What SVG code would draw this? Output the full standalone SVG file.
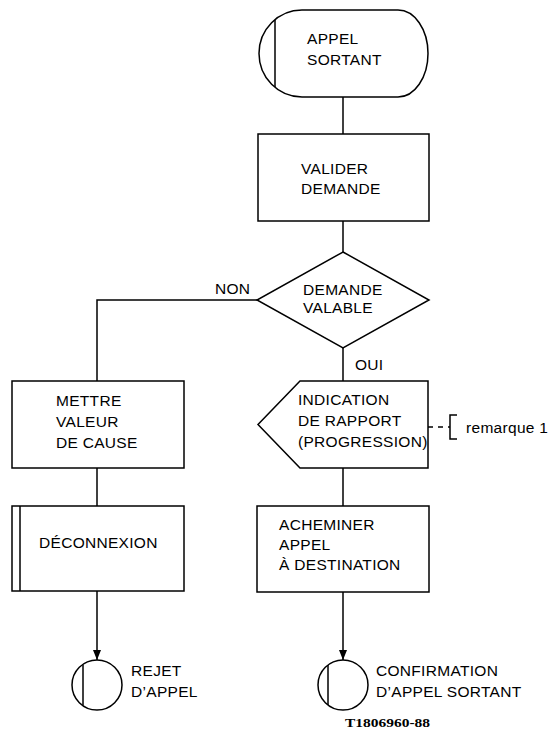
<svg xmlns="http://www.w3.org/2000/svg" width="554" height="745" viewBox="0 0 554 745">
<style>
.s{fill:#fff;stroke:#000;stroke-width:1.5}
.l{fill:none;stroke:#000;stroke-width:1.5}
.t{font-family:"Liberation Sans",Arial,sans-serif;font-size:15.5px;letter-spacing:0.3px;fill:#000}
.c{font-family:"Liberation Serif","Times New Roman",serif;font-size:12px;font-weight:bold;fill:#000}
</style>
<defs>
<marker id="ah" markerUnits="userSpaceOnUse" markerWidth="10" markerHeight="8" refX="10" refY="4" orient="auto">
<path d="M0,0 L10,4 L0,8 Z" fill="#000"/>
</marker>
</defs>
<rect width="554" height="745" fill="#fff"/>
<g id="connectors">
<path class="l" d="M343,97 V134"/>
<path class="l" d="M343,221 V252"/>
<path class="l" d="M257,300 H97 V381"/>
<path class="l" d="M343,348 V381"/>
<path class="l" d="M97,468 V506"/>
<path class="l" d="M343,468 V506"/>
<path class="l" d="M97,591 V660" marker-end="url(#ah)"/>
<path class="l" d="M343,592 V660" marker-end="url(#ah)"/>
<path class="l" d="M428,427 H450" stroke-dasharray="5,5"/>
<text class="t" x="215" y="294">NON</text>
<text class="t" x="355" y="370">OUI</text>
</g>
<g id="start">
<path class="s" d="M302,10 L398,10 A30,43.5 0 0 1 398,97 L302,97 A43,43.5 0 0 1 302,10 Z"/>
<path class="l" d="M275,20 V87"/>
<text class="t" x="307" y="44">APPEL</text>
<text class="t" x="307" y="65">SORTANT</text>
</g>
<g id="valider">
<rect class="s" x="258" y="134" width="171" height="87"/>
<text class="t" x="301" y="174">VALIDER</text>
<text class="t" x="301" y="194">DEMANDE</text>
</g>
<g id="decision">
<polygon class="s" points="343,252 429,300 343,348 257,300"/>
<text class="t" x="303" y="295">DEMANDE</text>
<text class="t" x="303" y="313">VALABLE</text>
</g>
<g id="indication">
<polygon class="s" points="300,381 428,381 428,468 300,468 258,424.5"/>
<text class="t" x="298" y="405">INDICATION</text>
<text class="t" x="298" y="426">DE RAPPORT</text>
<text class="t" x="298" y="447" letter-spacing="0">(PROGRESSION)</text>
</g>
<g id="remarque">
<path class="l" d="M457,415 H450 V439 H457"/>
<text class="t" x="466" y="433" letter-spacing="0">remarque 1</text>
</g>
<g id="mettre">
<rect class="s" x="12" y="381" width="172" height="87"/>
<text class="t" x="56" y="406">METTRE</text>
<text class="t" x="56" y="427">VALEUR</text>
<text class="t" x="56" y="448">DE CAUSE</text>
</g>
<g id="deconnexion">
<rect class="s" x="12" y="506" width="172" height="85"/>
<path class="l" d="M20,506 V591"/>
<text class="t" x="39" y="548">DÉCONNEXION</text>
</g>
<g id="acheminer">
<rect class="s" x="257" y="506" width="172" height="86"/>
<text class="t" x="279" y="530">ACHEMINER</text>
<text class="t" x="279" y="550">APPEL</text>
<text class="t" x="279" y="570">À DESTINATION</text>
</g>
<g id="rejet">
<circle class="s" cx="97" cy="685" r="25"/>
<path class="l" d="M83,664.5 V705.5"/>
<text class="t" x="131" y="676">REJET</text>
<text class="t" x="131" y="697">D’APPEL</text>
</g>
<g id="confirmation">
<circle class="s" cx="343" cy="685" r="25"/>
<path class="l" d="M328,665 V705"/>
<text class="t" x="376" y="676">CONFIRMATION</text>
<text class="t" x="376" y="697" letter-spacing="0">D’APPEL SORTANT</text>
</g>
<text class="c" x="345" y="727" textLength="85" lengthAdjust="spacingAndGlyphs">T1806960-88</text>
</svg>
